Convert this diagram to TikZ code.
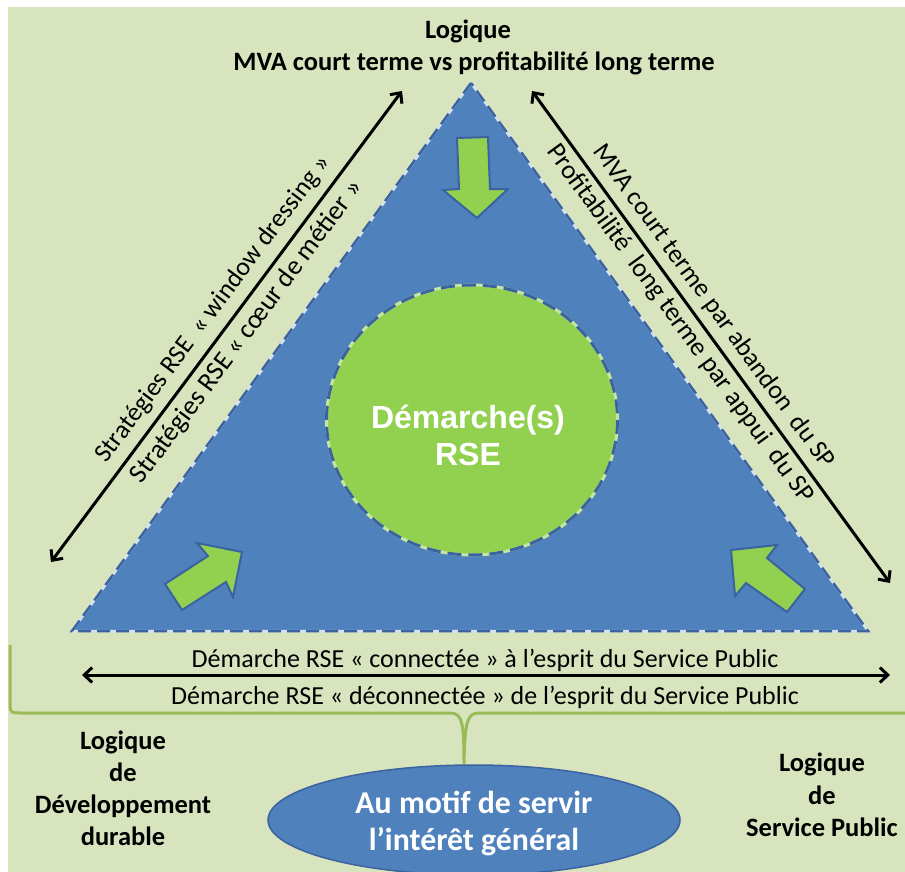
\documentclass[tikz,border=0pt]{standalone}
\usepackage{fontspec}
\setmainfont{Carlito}
\newfontfamily\arialfont{Liberation Sans}
\usetikzlibrary{arrows.meta,shapes.geometric}
\definecolor{bgc}{HTML}{D7E4BD}
\definecolor{triblue}{HTML}{4F81BD}
\definecolor{dkblue}{HTML}{3A63A0}
\definecolor{lgreen}{HTML}{92D050}
\definecolor{olivec}{HTML}{9BBB59}
\definecolor{gaplight}{HTML}{D5E2EE}
\definecolor{gapgreen}{HTML}{C4E6A0}
\tikzset{
  body/.style={font=\fontsize{26}{30}\selectfont, inner sep=0pt, anchor=base},
  boldlbl/.style={font=\fontsize{26.5}{30}\selectfont\bfseries, inner sep=0pt, anchor=base},
  dblarrow/.style={line width=3pt, {Straight Barb[length=8pt,width=15pt]}-{Straight Barb[length=8pt,width=15pt]}},
  blockarrow/.style={fill=lgreen, draw=dkblue, line width=2pt, line join=miter},
  whitetxt/.style={text=white, inner sep=0pt, anchor=base},
}
\begin{document}
\begin{tikzpicture}[x=1pt,y=-1pt]
\useasboundingbox (0,0) rectangle (905,872);
\fill[white] (0,0) rectangle (905,872);
\fill[bgc] (8,7) rectangle (905,872);

% brace
\draw[olivec, line width=3pt, line join=round]
  (10,645) -- (10,700) .. controls (10,713) .. (23,713) -- (450,713)
  .. controls (462,713) and (464,722) .. (464,763)
  .. controls (465,722) and (467,713) .. (479,713) -- (905,713);

% triangle
\coordinate (ta) at (471,83);
\coordinate (tl) at (72,631);
\coordinate (tr) at (868,631);
\fill[triblue] (ta) -- (tl) -- (tr) -- cycle;
\draw[gaplight, line width=2.5pt] (ta) -- (tl) -- (tr) -- cycle;
\draw[dkblue, line width=2.5pt, dash pattern=on 13pt off 6pt] (ta) -- (tl) -- (tr) -- cycle;

% central circle
\node[ellipse, fill=lgreen, minimum width=291pt, minimum height=270pt, inner sep=0pt] (rse) at (472,420) {};
\draw[gapgreen, line width=3pt] (472,420) ellipse [x radius=145.5, y radius=135];
\draw[dkblue, line width=3pt, dash pattern=on 14pt off 7pt] (472,420) ellipse [x radius=145.5, y radius=135];
\node[whitetxt, font=\arialfont\bfseries\fontsize{32}{36}\selectfont] (rse1) at (468,428) {Démarche(s)};
\node[whitetxt, font=\arialfont\bfseries\fontsize{32}{36}\selectfont] (rse2) at (468,465) {RSE};

% block arrows
\draw[blockarrow] (457,138) -- (488,137) -- (490,189) -- (508,189) -- (477,218) -- (443,190) -- (459,189) -- cycle;
\draw[blockarrow] (182,610) -- (165,584) -- (208,556) -- (197,543) -- (242,552) -- (233,597) -- (226,582) -- cycle;
\draw[blockarrow] (731,550) -- (777,545) -- (767,558) -- (805,589) -- (787,612) -- (746,583) -- (735,596) -- cycle;

% double arrows
\coordinate (la1) at (51,562);
\coordinate (la2) at (402,91);
\coordinate (ra1) at (532,91);
\coordinate (ra2) at (890,583);
\coordinate (ba1) at (82,675);
\coordinate (ba2) at (890,675);
\draw[dblarrow] (la1) -- (la2);
\draw[dblarrow] (ra1) -- (ra2);
\draw[dblarrow] (ba1) -- (ba2);

% rotated texts
\node[font=\fontsize{26}{30}\selectfont, inner sep=0pt, rotate=53.3] (wd) at (213.5,309) {Stratégies RSE\ \ « window dressing »};
\node[font=\fontsize{27}{30}\selectfont, inner sep=0pt, rotate=53.3] (cm) at (247,332) {Stratégies RSE « cœur de métier »};
\node[font=\fontsize{26}{30}\selectfont, inner sep=0pt, rotate=-54] (mva) at (713.5,306.5) {MVA court terme par abandon\ \ du SP};
\node[font=\fontsize{26.5}{30}\selectfont, inner sep=0pt, rotate=-54] (prof) at (680,324) {Profitabilité\ \ long terme par appui\ \ du SP};

% bottom texts
\node[body] (con) at (485,667.5) {Démarche RSE « connectée » à l’esprit du Service Public};
\node[body] (decon) at (485,704) {Démarche RSE « déconnectée » de l’esprit du Service Public};

% top title
\node[boldlbl] (t1) at (468,39) {Logique};
\node[boldlbl] (t2) at (474,70.5) {MVA court terme vs profitabilité long terme};

% left label
\node[boldlbl] (l1) at (123,749) {Logique};
\node[boldlbl] (l2) at (123,781) {de};
\node[boldlbl] (l3) at (123,813) {Développement};
\node[boldlbl] (l4) at (123,845) {durable};

% right label
\node[boldlbl] (r1) at (822,771.5) {Logique};
\node[boldlbl] (r2) at (822,804) {de};
\node[boldlbl] (r3) at (822,836.5) {Service Public};

% bottom ellipse
\node[ellipse, fill=triblue, draw=dkblue, line width=1.5pt, minimum width=412pt, minimum height=110pt, inner sep=0pt] (motif) at (474,820) {};
\node[whitetxt, font=\bfseries\fontsize{31.8}{36}\selectfont] (m1) at (474,813) {Au motif de servir};
\node[whitetxt, font=\bfseries\fontsize{31.8}{36}\selectfont] (m2) at (474,850) {l’intérêt général};
\end{tikzpicture}
\end{document}
